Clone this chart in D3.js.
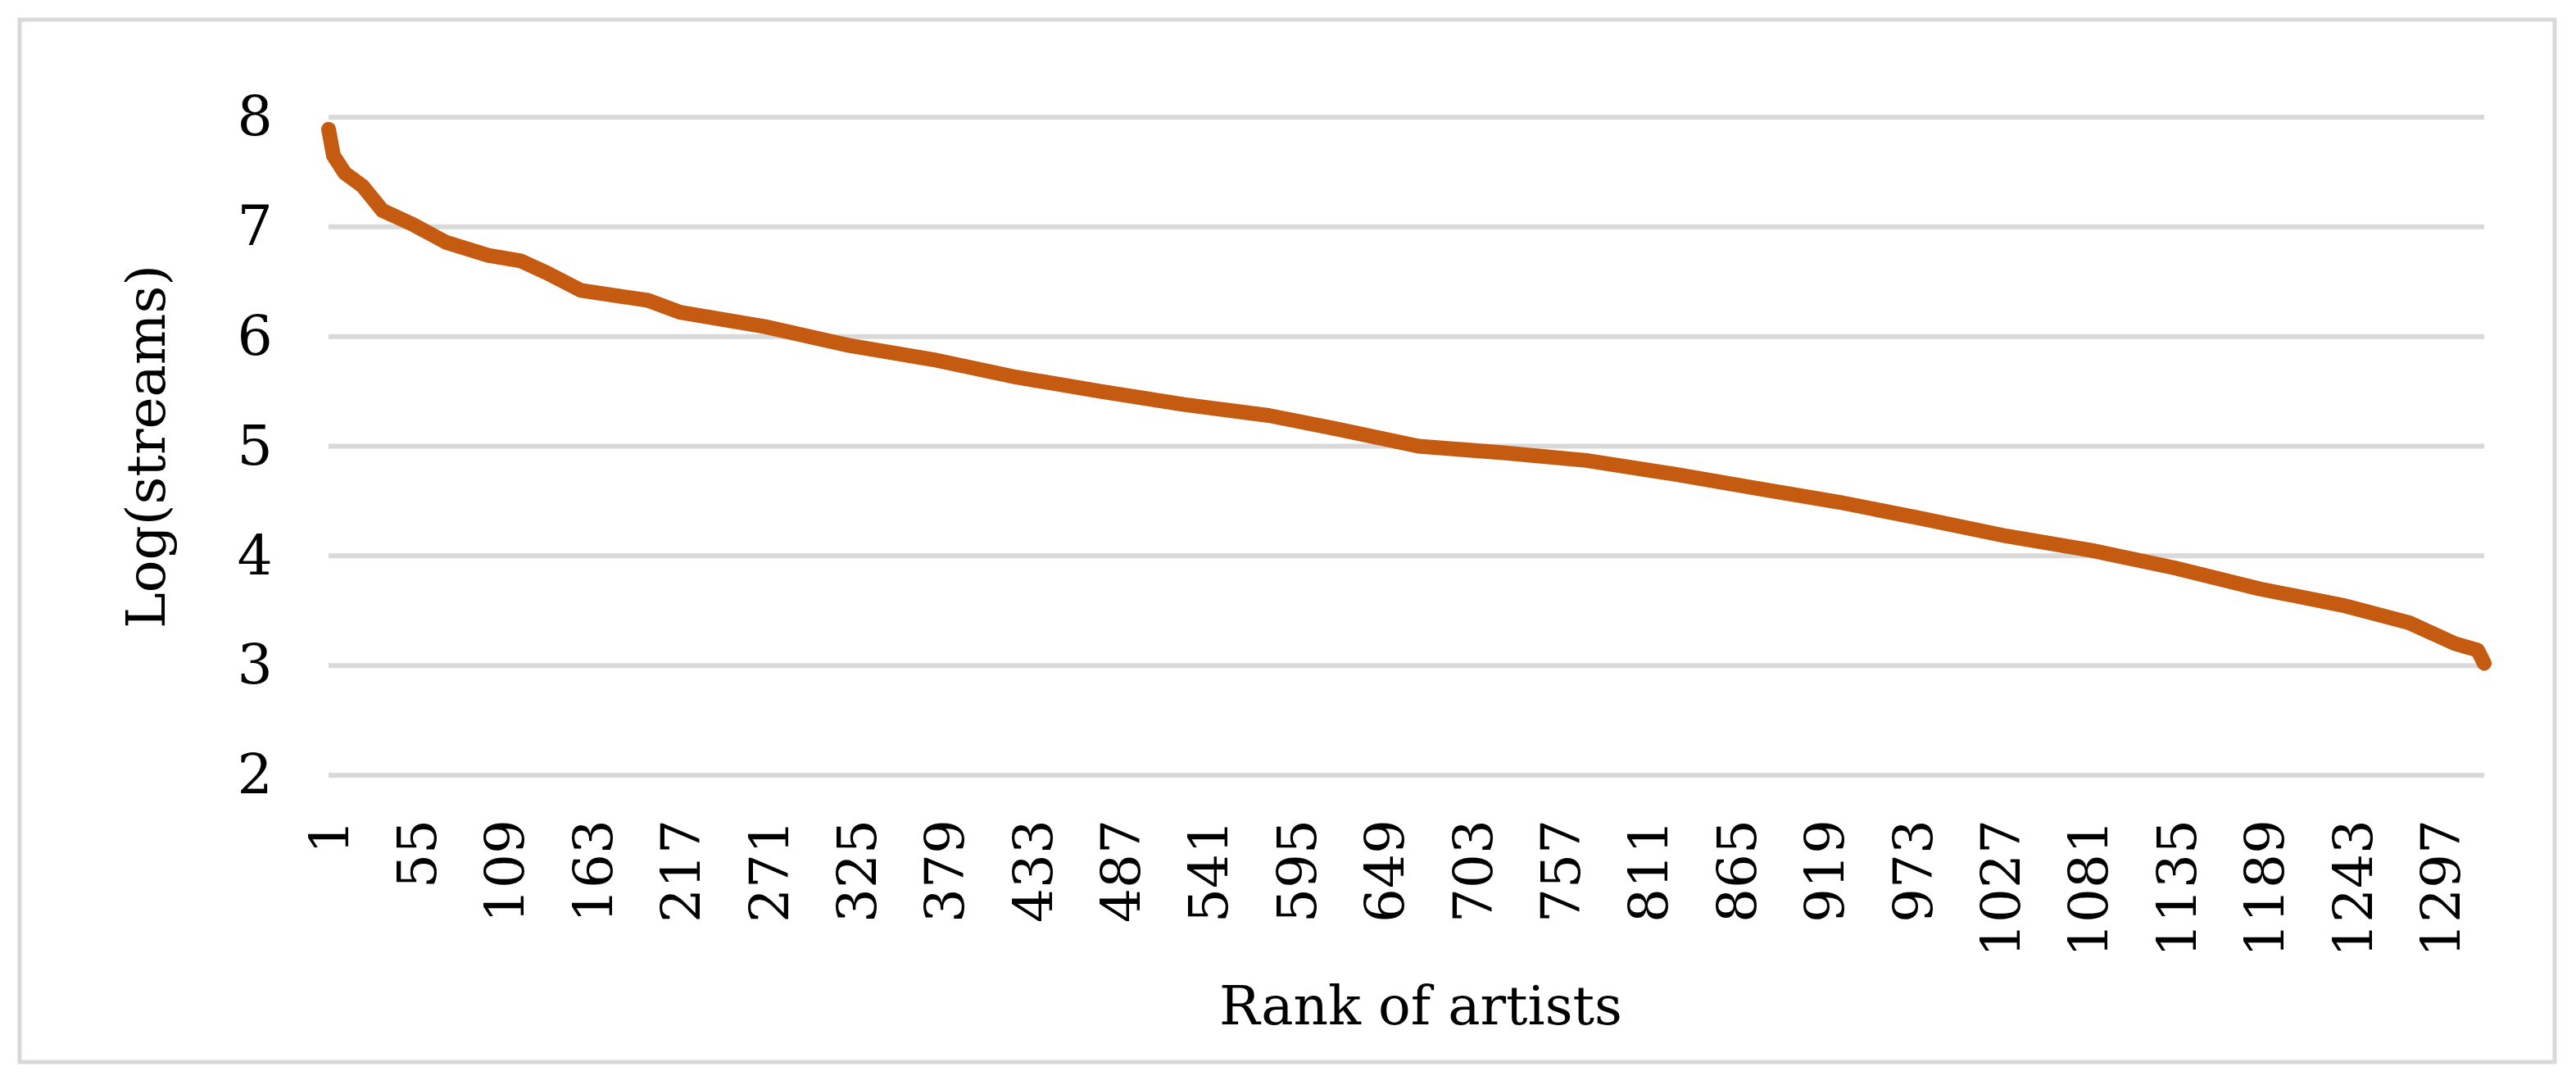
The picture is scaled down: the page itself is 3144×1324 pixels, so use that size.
<!DOCTYPE html>
<html>
<head>
<meta charset="utf-8">
<script src="https://cdn.jsdelivr.net/npm/d3@7"></script>
<style>
  body { margin: 0; background: #fff; }
  text { font-family: "DejaVu Serif", "Liberation Serif", serif; fill: #000; }
</style>
</head>
<body>
<svg id="chart" width="3144" height="1324"></svg>
<script>
// rank of artist and its log(streams)
const ranks = [1, 4, 11, 22, 34, 53, 73, 99, 119, 135, 156, 197, 217, 269, 320, 372, 423, 475, 526,
  578, 619, 670, 722, 773, 825, 876, 928, 979, 1031, 1083, 1134, 1186, 1237, 1278, 1306, 1320, 1324];
const logStreams = [7.89, 7.65, 7.49, 7.37, 7.15, 7.02, 6.86, 6.74, 6.69, 6.58, 6.42, 6.33, 6.22, 6.09,
  5.92, 5.79, 5.63, 5.5, 5.38, 5.28, 5.16, 5.0, 4.94, 4.87, 4.75, 4.62, 4.49, 4.34, 4.18, 4.05, 3.89,
  3.7, 3.55, 3.39, 3.2, 3.14, 3.02];
const xTicks = d3.range(1, 1300, 54);
const yTicks = [2, 3, 4, 5, 6, 7, 8];
const nArtists = 1324;

const svg = d3.select("#chart");

svg.append("rect")
  .attr("x", 24).attr("y", 24).attr("width", 3094).attr("height", 1272)
  .attr("fill", "none").attr("stroke", "#d9d9d9").attr("stroke-width", 5);

const xScale = d3.scaleLinear().domain([1, nArtists]).range([401, 3032]);
const yScale = d3.scaleLinear().domain([2, 8]).range([946, 143]);

// gridlines
svg.append("g")
  .selectAll("line")
  .data(yTicks)
  .enter()
  .append("line")
  .attr("x1", 401).attr("x2", 3032)
  .attr("y1", (d) => yScale(d)).attr("y2", (d) => yScale(d))
  .attr("stroke", "#d9d9d9").attr("stroke-width", 6);

const yAxis = d3.axisLeft(yScale).tickValues(yTicks).tickFormat(d3.format("d"))
  .tickSize(0).tickPadding(90);
svg.append("g")
  .attr("transform", "translate(401, 0)")
  .call(yAxis)
  .call((g) => g.select(".domain").remove())
  .selectAll("text")
  .attr("text-anchor", "middle")
  .style("font-size", "68px");

const xAxis = d3.axisBottom(xScale).tickValues(xTicks).tickFormat(d3.format("d")).tickSize(0);
svg.append("g")
  .attr("transform", "translate(0, 1000)")
  .call(xAxis)
  .call((g) => g.select(".domain").remove())
  .selectAll("text")
  .style("font-size", "66px")
  .attr("transform", "rotate(-90)")
  .attr("text-anchor", "end")
  .attr("x", 0)
  .attr("y", 0)
  .attr("dy", "0.35em");

const line = d3.line()
  .x((d, i) => xScale(ranks[i]))
  .y((d) => yScale(d));

svg.append("path")
  .datum(logStreams)
  .attr("d", line)
  .attr("fill", "none")
  .attr("stroke", "#c55a11")
  .attr("stroke-width", 18)
  .attr("stroke-linejoin", "round")
  .attr("stroke-linecap", "round");

svg.append("text")
  .text("Log(streams)")
  .attr("transform", "translate(184, 545) rotate(-90)")
  .attr("text-anchor", "middle")
  .attr("dominant-baseline", "middle")
  .style("font-size", "66px");

svg.append("text")
  .text("Rank of artists")
  .attr("x", 1734)
  .attr("y", 1233)
  .attr("text-anchor", "middle")
  .attr("dominant-baseline", "middle")
  .style("font-size", "66px");
</script>
</body>
</html>
